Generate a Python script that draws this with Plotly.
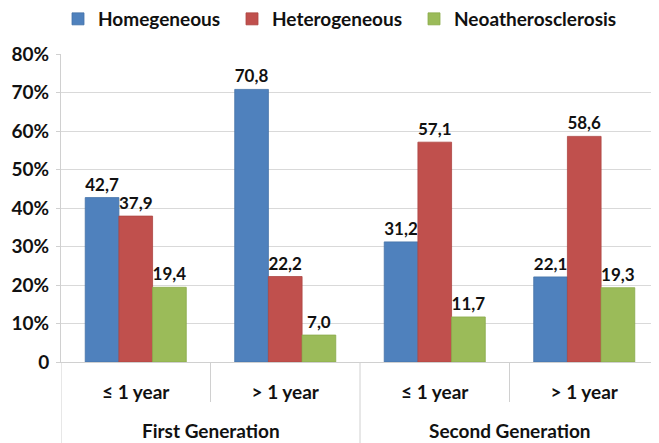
import plotly.graph_objects as go

generations = ["First Generation", "Second Generation"]
periods = ["≤ 1 year", "> 1 year", "≤ 1 year", "> 1 year"]
homogeneous = [42.7, 70.8, 31.2, 22.1]
heterogeneous = [37.9, 22.2, 57.1, 58.6]
neoathero = [19.4, 7.0, 11.7, 19.3]
tick_vals = [0, 10, 20, 30, 40, 50, 60, 70, 80]
tick_text = ["0", "10%", "20%", "30%", "40%", "50%", "60%", "70%", "80%"]

FONT = "Lato, 'Open Sans', sans-serif"
AX = "#d0d0d0"
series = [("Homegeneous", homogeneous, "#4F81BD", "#4472a8"),
          ("Heterogeneous", heterogeneous, "#C0504D", "#ad4542"),
          ("Neoatherosclerosis", neoathero, "#9BBB59", "#8aab4a")]
legend_ids = ["legend", "legend2", "legend3"]
legend_left_px = [-3, 171, 353]   # legend box left edges relative to the plot area

# page body has an 8px default margin: the figure is sized to fill the remaining window
W, H = 651, 435
ML, MT, MB = 53, 46, 81
H_PLOT = H - MT - MB
W_PLOT = W - ML

xpos = list(range(len(periods)))
fig = go.Figure()
for (name, vals, col, lc), lid in zip(series, legend_ids):
    fig.add_trace(go.Bar(
        x=xpos, y=vals, name=name, legend=lid,
        marker=dict(color=col, line=dict(color=lc, width=0.8)),
        texttemplate="%{y:.1f}", textposition="outside",
        textfont=dict(family=FONT, size=17, color="#111", weight="bold"),
        cliponaxis=False,
    ))

shapes = []
for i in range(len(periods)):
    b = i - 0.5
    long = (i == 0) or (i == 2)
    y1 = -MB / H_PLOT if long else -40 / H_PLOT
    shapes.append(dict(type="line", xref="x", yref="paper", x0=b, x1=b, y0=0, y1=y1,
                       line=dict(color=AX, width=1)))

annotations = []
for j, g in enumerate(generations):
    annotations.append(dict(x=2 * j + 0.5, y=-68 / H_PLOT, xref="x", yref="paper",
                            text=g, showarrow=False, xanchor="center", yanchor="middle",
                            font=dict(family=FONT, size=19, color="#111", weight="bold")))

legend_style = dict(orientation="h", xanchor="left", y=1 + 35 / H_PLOT, yanchor="middle",
                    font=dict(family=FONT, size=19, color="#111", weight="bold"),
                    itemclick=False, itemwidth=30, bgcolor="rgba(0,0,0,0)")
legends = {lid: dict(legend_style, x=px / W_PLOT) for lid, px in zip(legend_ids, legend_left_px)}

fig.update_layout(
    width=W, height=H,
    margin=dict(l=ML, r=0, t=MT, b=MB, autoexpand=False),
    paper_bgcolor="white", plot_bgcolor="white",
    separators=",.",
    barmode="group", bargap=0.324, bargroupgap=0,
    font=dict(family=FONT, size=17, color="#111"),
    showlegend=True,
    xaxis=dict(range=[-0.5, len(periods) - 0.5], tickvals=xpos, ticktext=periods,
               showline=True, linecolor=AX, linewidth=1, showgrid=False, zeroline=False,
               ticks="", ticklabelstandoff=13, automargin=False,
               tickfont=dict(family=FONT, size=19, color="#111", weight="bold")),
    yaxis=dict(range=[0, 80], tickvals=tick_vals, ticktext=tick_text,
               showgrid=True, gridcolor="#d9d9d9", gridwidth=1,
               showline=True, linecolor=AX, zeroline=False, automargin=False,
               ticks="outside", ticklen=4, tickcolor=AX, ticklabelstandoff=3,
               tickfont=dict(family=FONT, size=19, color="#111", weight="bold")),
    shapes=shapes,
    annotations=annotations,
    **legends,
)
fig.write_html("out.html")
